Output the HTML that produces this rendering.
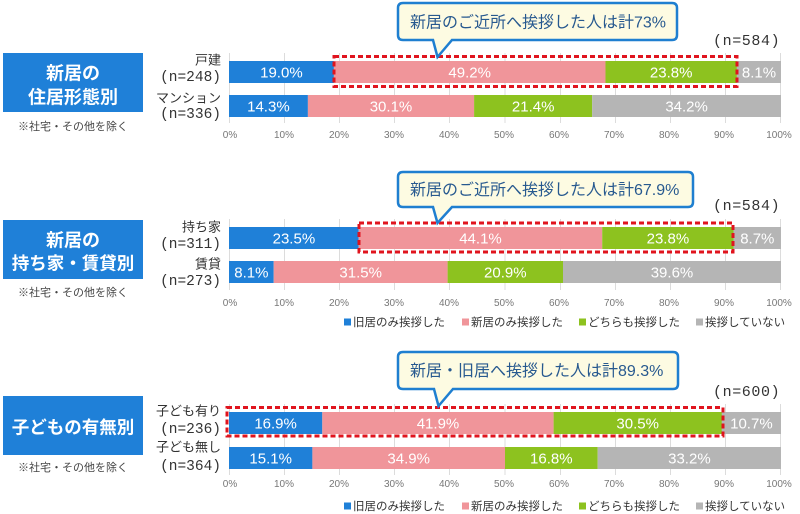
<!DOCTYPE html>
<html><head><meta charset="utf-8"><style>
html,body{margin:0;padding:0;background:#fff;}
svg{display:block;}
.jp{font-family:"Liberation Sans","Noto Sans CJK JP",sans-serif;}
.mono{font-family:"Liberation Mono","Noto Sans CJK JP",monospace;}
.bl{font-family:"Liberation Sans",sans-serif;font-size:15px;fill:#fff;text-anchor:middle;}
.tk{font-family:"Liberation Sans",sans-serif;font-size:10px;fill:#777;text-anchor:middle;}
.grid line{stroke:#dcdcdc;stroke-width:1;}
.box{fill:#1f80d8;}
.bt{font-family:"Liberation Sans","Noto Sans CJK JP",sans-serif;font-weight:700;fill:#fff;text-anchor:middle;}
.note{font-family:"Liberation Sans","Noto Sans CJK JP",sans-serif;font-size:11px;fill:#444;text-anchor:middle;}
.rl{font-family:"Liberation Sans","Noto Sans CJK JP",sans-serif;font-size:13px;fill:#333;text-anchor:end;}
.rn{font-family:"Liberation Mono",monospace;font-size:14.5px;fill:#333;text-anchor:end;}
.nn{font-family:"Liberation Mono",monospace;font-size:15px;fill:#333;letter-spacing:0.6px;}
.co{fill:#fdfbe2;stroke:#1f7fd0;stroke-width:2.5;}
.ct{font-family:"Liberation Sans","Noto Sans CJK JP",sans-serif;font-size:16px;fill:#27598f;}
.dash{fill:none;stroke:#e0141e;stroke-width:3;stroke-dasharray:5 3;}
.lg{font-family:"Liberation Sans","Noto Sans CJK JP",sans-serif;font-size:11.5px;fill:#333;}
</style></head><body>
<svg width="800" height="514" viewBox="0 0 800 514" xmlns="http://www.w3.org/2000/svg">
<!-- ============ Section 1 ============ -->
<rect class="box" x="3" y="53" width="140" height="59"/>
<text class="bt" x="73" y="79.5" font-size="18">新居の</text>
<text class="bt" x="73" y="103.5" font-size="18">住居形態別</text>
<text class="note" x="73" y="130">※社宅・その他を除く</text>

<g class="grid">
<line x1="229.5" y1="53" x2="229.5" y2="123"/>
<line x1="284.5" y1="53" x2="284.5" y2="123"/>
<line x1="339.5" y1="53" x2="339.5" y2="123"/>
<line x1="394.5" y1="53" x2="394.5" y2="123"/>
<line x1="449.5" y1="53" x2="449.5" y2="123"/>
<line x1="505" y1="53" x2="505" y2="123"/>
<line x1="560.5" y1="53" x2="560.5" y2="123"/>
<line x1="615.5" y1="53" x2="615.5" y2="123"/>
<line x1="670.5" y1="53" x2="670.5" y2="123"/>
<line x1="725.5" y1="53" x2="725.5" y2="123"/>
<line x1="780.5" y1="53" x2="780.5" y2="123"/>
</g>

<text class="rl" x="221" y="64.5">戸建</text>
<text class="rn" x="221" y="81">(n=248)</text>
<text class="rl" x="221" y="102.5">マンション</text>
<text class="rn" x="221" y="118">(n=336)</text>

<rect x="229" y="61" width="104.9" height="22" fill="#1f80d8"/>
<rect x="333.9" y="61" width="271.6" height="22" fill="#f0959a"/>
<rect x="605.5" y="61" width="131.4" height="22" fill="#8dc21f"/>
<rect x="736.9" y="61" width="44.1" height="22" fill="#b5b5b5"/>
<text class="bl" x="281.4" y="77.5">19.0%</text>
<text class="bl" x="469.7" y="77.5">49.2%</text>
<text class="bl" x="671.2" y="77.5">23.8%</text>
<text class="bl" x="759" y="77.5">8.1%</text>

<rect x="229" y="95" width="78.9" height="22" fill="#1f80d8"/>
<rect x="307.9" y="95" width="166.2" height="22" fill="#f0959a"/>
<rect x="474.1" y="95" width="118.1" height="22" fill="#8dc21f"/>
<rect x="592.2" y="95" width="188.8" height="22" fill="#b5b5b5"/>
<text class="bl" x="268.4" y="111.5">14.3%</text>
<text class="bl" x="391" y="111.5">30.1%</text>
<text class="bl" x="533.2" y="111.5">21.4%</text>
<text class="bl" x="686.6" y="111.5">34.2%</text>

<rect class="dash" x="334" y="56.5" width="403" height="30"/>

<g>
<text class="tk" x="230" y="138">0%</text><text class="tk" x="284" y="138">10%</text><text class="tk" x="339" y="138">20%</text><text class="tk" x="394" y="138">30%</text><text class="tk" x="449" y="138">40%</text><text class="tk" x="504" y="138">50%</text><text class="tk" x="559" y="138">60%</text><text class="tk" x="614" y="138">70%</text><text class="tk" x="669" y="138">80%</text><text class="tk" x="724" y="138">90%</text><text class="tk" x="779" y="138">100%</text>
</g>

<path class="co" d="M403,3 H672 Q677,3 677,8 V35 Q677,40 672,40 H452 L437.5,57 L433,40 H403 Q398,40 398,35 V8 Q398,3 403,3 Z"/>
<text class="ct" x="410" y="27.5">新居のご近所へ挨拶した人は計73%</text>
<text class="nn" x="713" y="45">(n=584)</text>

<!-- ============ Section 2 ============ -->
<rect class="box" x="3" y="220" width="140" height="59"/>
<text class="bt" x="73" y="246.5" font-size="18">新居の</text>
<text class="bt" x="73" y="269.5" font-size="17.5">持ち家・賃貸別</text>
<text class="note" x="73" y="296">※社宅・その他を除く</text>

<g class="grid">
<line x1="229.5" y1="219" x2="229.5" y2="290"/>
<line x1="284.5" y1="219" x2="284.5" y2="290"/>
<line x1="339.5" y1="219" x2="339.5" y2="290"/>
<line x1="394.5" y1="219" x2="394.5" y2="290"/>
<line x1="449.5" y1="219" x2="449.5" y2="290"/>
<line x1="505" y1="219" x2="505" y2="290"/>
<line x1="560.5" y1="219" x2="560.5" y2="290"/>
<line x1="615.5" y1="219" x2="615.5" y2="290"/>
<line x1="670.5" y1="219" x2="670.5" y2="290"/>
<line x1="725.5" y1="219" x2="725.5" y2="290"/>
<line x1="780.5" y1="219" x2="780.5" y2="290"/>
</g>

<text class="rl" x="221" y="231.5">持ち家</text>
<text class="rn" x="221" y="248">(n=311)</text>
<text class="rl" x="221" y="268.5">賃貸</text>
<text class="rn" x="221" y="285">(n=273)</text>

<rect x="229" y="227" width="129.7" height="22" fill="#1f80d8"/>
<rect x="358.7" y="227" width="243.5" height="22" fill="#f0959a"/>
<rect x="602.2" y="227" width="131.3" height="22" fill="#8dc21f"/>
<rect x="733.5" y="227" width="47.5" height="22" fill="#b5b5b5"/>
<text class="bl" x="293.9" y="243.5">23.5%</text>
<text class="bl" x="480.5" y="243.5">44.1%</text>
<text class="bl" x="667.9" y="243.5">23.8%</text>
<text class="bl" x="757.3" y="243.5">8.7%</text>

<rect x="229" y="261" width="44.7" height="22" fill="#1f80d8"/>
<rect x="273.7" y="261" width="173.9" height="22" fill="#f0959a"/>
<rect x="447.6" y="261" width="115.4" height="22" fill="#8dc21f"/>
<rect x="563" y="261" width="218" height="22" fill="#b5b5b5"/>
<text class="bl" x="251.4" y="277.5">8.1%</text>
<text class="bl" x="360.7" y="277.5">31.5%</text>
<text class="bl" x="505.3" y="277.5">20.9%</text>
<text class="bl" x="672" y="277.5">39.6%</text>

<rect class="dash" x="359" y="223" width="374" height="29"/>

<g>
<text class="tk" x="230" y="306">0%</text><text class="tk" x="284" y="306">10%</text><text class="tk" x="339" y="306">20%</text><text class="tk" x="394" y="306">30%</text><text class="tk" x="449" y="306">40%</text><text class="tk" x="504" y="306">50%</text><text class="tk" x="559" y="306">60%</text><text class="tk" x="614" y="306">70%</text><text class="tk" x="669" y="306">80%</text><text class="tk" x="724" y="306">90%</text><text class="tk" x="779" y="306">100%</text>
</g>

<path class="co" d="M403,172 H688 Q693,172 693,177 V202 Q693,207 688,207 H452 L437.5,223 L433,207 H403 Q398,207 398,202 V177 Q398,172 403,172 Z"/>
<text class="ct" x="410" y="195">新居のご近所へ挨拶した人は計67.9%</text>
<text class="nn" x="713" y="210">(n=584)</text>

<g>
<rect x="344" y="318.5" width="7" height="7" fill="#1f80d8"/><text class="lg" x="353" y="326">旧居のみ挨拶した</text>
<rect x="462" y="318.5" width="7" height="7" fill="#f0959a"/><text class="lg" x="471" y="326">新居のみ挨拶した</text>
<rect x="579" y="318.5" width="7" height="7" fill="#8dc21f"/><text class="lg" x="588" y="326">どちらも挨拶した</text>
<rect x="696" y="318.5" width="7" height="7" fill="#b5b5b5"/><text class="lg" x="705" y="326">挨拶していない</text>
</g>

<!-- ============ Section 3 ============ -->
<rect class="box" x="3" y="396" width="140" height="59"/>
<text class="bt" x="73" y="433.5" font-size="17.5">子どもの有無別</text>
<text class="note" x="73" y="471">※社宅・その他を除く</text>

<g class="grid">
<line x1="229.5" y1="404" x2="229.5" y2="475"/>
<line x1="284.5" y1="404" x2="284.5" y2="475"/>
<line x1="339.5" y1="404" x2="339.5" y2="475"/>
<line x1="394.5" y1="404" x2="394.5" y2="475"/>
<line x1="449.5" y1="404" x2="449.5" y2="475"/>
<line x1="505" y1="404" x2="505" y2="475"/>
<line x1="560.5" y1="404" x2="560.5" y2="475"/>
<line x1="615.5" y1="404" x2="615.5" y2="475"/>
<line x1="670.5" y1="404" x2="670.5" y2="475"/>
<line x1="725.5" y1="404" x2="725.5" y2="475"/>
<line x1="780.5" y1="404" x2="780.5" y2="475"/>
</g>

<text class="rl" x="221" y="415.5">子ども有り</text>
<text class="rn" x="221" y="433">(n=236)</text>
<text class="rl" x="221" y="451.5">子ども無し</text>
<text class="rn" x="221" y="470">(n=364)</text>

<rect x="229" y="412" width="93.3" height="22" fill="#1f80d8"/>
<rect x="322.3" y="412" width="231.3" height="22" fill="#f0959a"/>
<rect x="553.6" y="412" width="168.3" height="22" fill="#8dc21f"/>
<rect x="721.9" y="412" width="59.1" height="22" fill="#b5b5b5"/>
<text class="bl" x="275.6" y="428.5">16.9%</text>
<text class="bl" x="438" y="428.5">41.9%</text>
<text class="bl" x="637.7" y="428.5">30.5%</text>
<text class="bl" x="751.4" y="428.5">10.7%</text>

<rect x="229" y="447" width="83.4" height="22" fill="#1f80d8"/>
<rect x="312.4" y="447" width="192.6" height="22" fill="#f0959a"/>
<rect x="505" y="447" width="92.7" height="22" fill="#8dc21f"/>
<rect x="597.7" y="447" width="183.3" height="22" fill="#b5b5b5"/>
<text class="bl" x="270.7" y="463.5">15.1%</text>
<text class="bl" x="408.7" y="463.5">34.9%</text>
<text class="bl" x="551.3" y="463.5">16.8%</text>
<text class="bl" x="689.4" y="463.5">33.2%</text>

<rect class="dash" x="227" y="407.5" width="496" height="28.5"/>

<g>
<text class="tk" x="230" y="487">0%</text><text class="tk" x="284" y="487">10%</text><text class="tk" x="339" y="487">20%</text><text class="tk" x="394" y="487">30%</text><text class="tk" x="449" y="487">40%</text><text class="tk" x="504" y="487">50%</text><text class="tk" x="559" y="487">60%</text><text class="tk" x="614" y="487">70%</text><text class="tk" x="669" y="487">80%</text><text class="tk" x="724" y="487">90%</text><text class="tk" x="779" y="487">100%</text>
</g>

<path class="co" d="M403,352 H673 Q678,352 678,357 V384 Q678,389 673,389 H453 L438.5,406 L434,389 H403 Q398,389 398,384 V357 Q398,352 403,352 Z"/>
<text class="ct" x="410" y="376">新居・旧居へ挨拶した人は計89.3%</text>
<text class="nn" x="713" y="396">(n=600)</text>

<g>
<rect x="344" y="502.5" width="7" height="7" fill="#1f80d8"/><text class="lg" x="353" y="510">旧居のみ挨拶した</text>
<rect x="462" y="502.5" width="7" height="7" fill="#f0959a"/><text class="lg" x="471" y="510">新居のみ挨拶した</text>
<rect x="579" y="502.5" width="7" height="7" fill="#8dc21f"/><text class="lg" x="588" y="510">どちらも挨拶した</text>
<rect x="696" y="502.5" width="7" height="7" fill="#b5b5b5"/><text class="lg" x="705" y="510">挨拶していない</text>
</g>
</svg>
</body></html>
